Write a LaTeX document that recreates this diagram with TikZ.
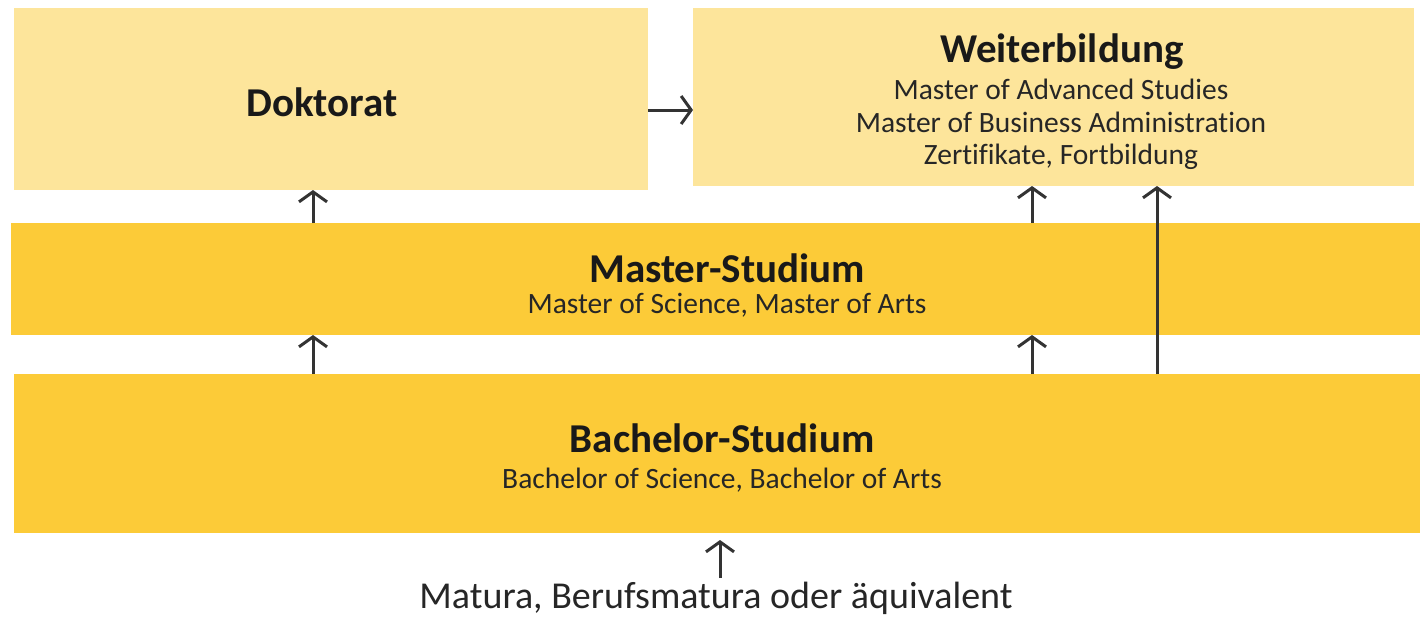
\documentclass[tikz,border=0pt]{standalone}
\usepackage{fontspec}
\setmainfont{Carlito}[Ligatures=CommonOff]
\usetikzlibrary{positioning}
\usetikzlibrary{arrows.meta}
\definecolor{hell}{HTML}{FDE59B}
\definecolor{dunkel}{HTML}{FCCB38}
\tikzset{
	feld/.style = {inner sep=0pt, outer sep=0pt},
	titel/.style = {font=\fontsize{41}{44}\selectfont\bfseries, text=black!90, anchor=base},
	untertitel/.style = {font=\fontsize{29.5}{33}\selectfont, text=black!85, anchor=base},
	pfeil/.style = {-{Straight Barb[length=10pt,width=28pt]}, line width=3pt, black!80}
}

\begin{document}
\begin{tikzpicture}[x=1pt, y=-1pt]
		\useasboundingbox (0,0) rectangle (1420,619);
		% felder
		\node[feld, fill=hell, minimum width=634pt, minimum height=182pt] (doktorat) at (331,99) {};
		\node[feld, fill=hell, minimum width=721pt, minimum height=178pt] (weiter) at (1053.5,97) {};
		\node[feld, fill=dunkel, minimum width=1409pt, minimum height=112pt] (master) at (715.5,279) {};
		\node[feld, fill=dunkel, minimum width=1406pt, minimum height=159pt] (bachelor) at (717,453.5) {};
		
		% texte
		\node[titel] (doktoratTitel) at (322,116) {Doktorat};
		\node[titel] (weiterTitel) at (1062,62) {Weiterbildung};
		\node[untertitel] (weiterA) at (1061,99) {Master of Advanced Studies};
		\node[untertitel] (weiterB) at (1061,132) {Master of Business Administration};
		\node[untertitel] (weiterC) at (1061,164) {Zertifikate, Fortbildung};
		\node[titel] (masterTitel) at (727,282) {Master-Studium};
		\node[untertitel] (masterText) at (727,313) {Master of Science, Master of Arts};
		\node[titel] (bachelorTitel) at (722,452) {Bachelor-Studium};
		\node[untertitel] (bachelorText) at (722,488) {Bachelor of Science, Bachelor of Arts};
		\node[untertitel, font=\fontsize{38}{40}\selectfont] (matura) at (716,608) {Matura, Berufsmatura oder äquivalent};
		
		% pfeile
		\coordinate (links) at (313,0);
		\coordinate (rechts) at (1032,0);
		\coordinate (lang) at (1157,0);
		\coordinate (mitte) at (720,0);
		\draw[pfeil] (master.north -| links) -- (doktorat.south -| links);
		\draw[pfeil] (bachelor.north -| links) -- (master.south -| links);
		\draw[pfeil] (master.north -| rechts) -- (weiter.south -| rechts);
		\draw[pfeil] (bachelor.north -| rechts) -- (master.south -| rechts);
		\draw[pfeil] (bachelor.north -| lang) -- (weiter.south -| lang);
		\draw[pfeil] (doktorat.east |- 0,110) -- (weiter.west |- 0,110);
		\draw[pfeil, shorten >=7pt] (matura.north -| mitte) -- (bachelor.south -| mitte);
	\end{tikzpicture}
\end{document}
